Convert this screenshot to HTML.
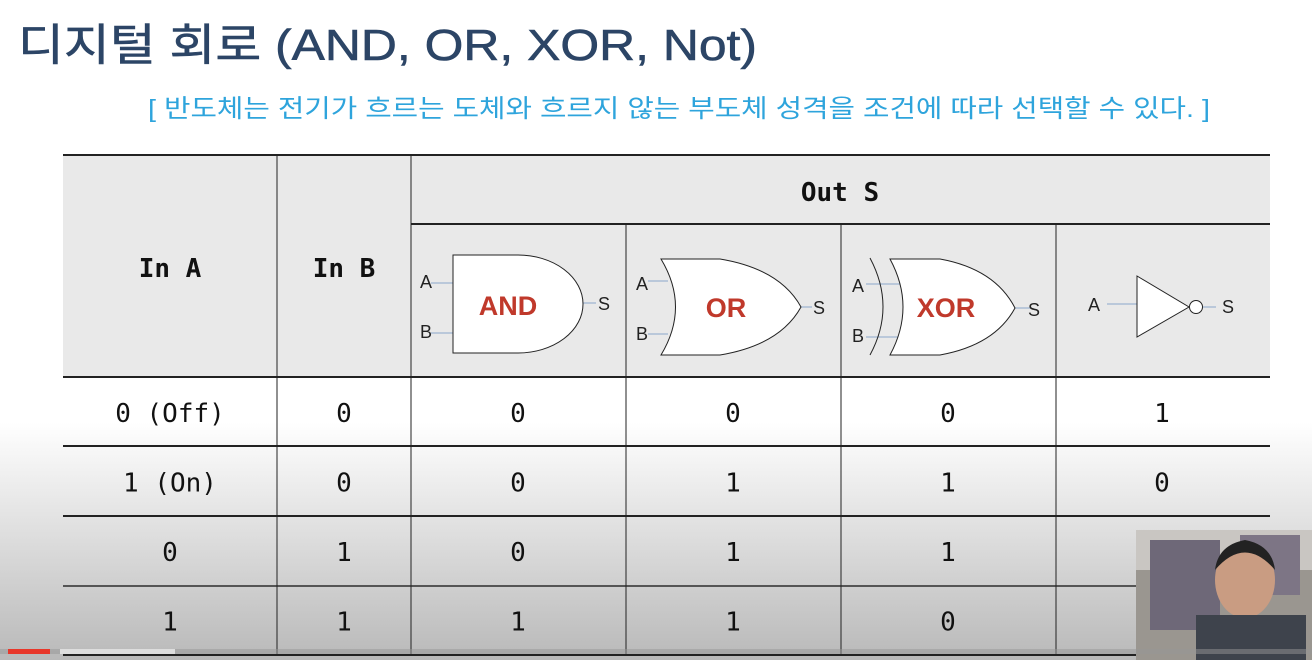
<!DOCTYPE html>
<html><head><meta charset="utf-8">
<style>
html,body{margin:0;padding:0;width:1312px;height:660px;overflow:hidden;background:#fff}
svg{display:block}
.mono{font-family:"DejaVu Sans Mono","Liberation Mono",monospace;fill:#111}
.sans{font-family:"Liberation Sans","DejaVu Sans",sans-serif}
</style></head>
<body>
<svg width="1312" height="660" viewBox="0 0 1312 660">
<defs>
<linearGradient id="bg" x1="0" y1="0" x2="0" y2="1">
<stop offset="0" stop-color="#ffffff"/>
<stop offset="0.64" stop-color="#ffffff"/>
<stop offset="1" stop-color="#b9b9b9"/>
</linearGradient>
</defs>
<rect width="1312" height="660" fill="url(#bg)"/>

<text x="18" y="60" font-size="44" fill="#2c4566" textLength="739" lengthAdjust="spacingAndGlyphs" style='font-family:"Liberation Sans","Noto Sans CJK KR",sans-serif;stroke:#2c4566;stroke-width:0.6'>디지털 회로 (AND, OR, XOR, Not)</text>
<text x="148" y="117" font-size="25" fill="#2ea4dc" textLength="1062" lengthAdjust="spacingAndGlyphs" style='font-family:"Liberation Sans","Noto Sans CJK KR",sans-serif'>[ 반도체는 전기가 흐르는 도체와 흐르지 않는 부도체 성격을 조건에 따라 선택할 수 있다. ]</text>

<rect x="63" y="155" width="1207" height="222" fill="#e9e9e9"/>

<g stroke="#222" fill="none">
<line x1="63" y1="155" x2="1270" y2="155" stroke-width="2"/>
<line x1="411" y1="224" x2="1270" y2="224" stroke-width="2"/>
<line x1="63" y1="377" x2="1270" y2="377" stroke-width="2"/>
<line x1="63" y1="446" x2="1270" y2="446" stroke-width="2"/>
<line x1="63" y1="516" x2="1270" y2="516" stroke-width="2"/>
<line x1="63" y1="586" x2="1270" y2="586" stroke-width="2" stroke="#555"/>
<line x1="63" y1="655" x2="1270" y2="655" stroke-width="2"/>
<line x1="277" y1="155" x2="277" y2="655"/>
<line x1="411" y1="155" x2="411" y2="655"/>
<line x1="626" y1="224" x2="626" y2="655"/>
<line x1="841" y1="224" x2="841" y2="655"/>
<line x1="1056" y1="224" x2="1056" y2="655"/>
</g>

<g class="mono" font-size="26" font-weight="bold" text-anchor="middle">
<text x="170" y="277">In A</text>
<text x="344" y="277">In B</text>
<text x="840" y="201">Out S</text>
</g>

<g>
<line x1="431" y1="283" x2="453" y2="283" stroke="#8aa8cc"/>
<line x1="431" y1="333" x2="453" y2="333" stroke="#8aa8cc"/>
<line x1="583" y1="303" x2="596" y2="303" stroke="#8aa8cc"/>
<path d="M453 255 H518 A65 49 0 0 1 518 353 H453 Z" fill="#fff" stroke="#222"/>
<text class="sans" x="508" y="315" font-size="27" font-weight="bold" fill="#c0392b" text-anchor="middle">AND</text>
<text class="sans" x="420" y="288" font-size="18" fill="#222">A</text>
<text class="sans" x="420" y="338" font-size="18" fill="#222">B</text>
<text class="sans" x="598" y="310" font-size="18" fill="#222">S</text>
</g>

<g>
<line x1="648" y1="281" x2="668" y2="281" stroke="#8aa8cc"/>
<line x1="648" y1="334" x2="668" y2="334" stroke="#8aa8cc"/>
<line x1="801" y1="307" x2="812" y2="307" stroke="#8aa8cc"/>
<path d="M661 259 Q690 307 661 355 H720 Q780 345 801 307 Q780 269 720 259 Z" fill="#fff" stroke="#222"/>
<text class="sans" x="726" y="317" font-size="27" font-weight="bold" fill="#c0392b" text-anchor="middle">OR</text>
<text class="sans" x="636" y="290" font-size="18" fill="#222">A</text>
<text class="sans" x="636" y="340" font-size="18" fill="#222">B</text>
<text class="sans" x="813" y="314" font-size="18" fill="#222">S</text>
</g>

<g>
<line x1="866" y1="284" x2="902" y2="284" stroke="#8aa8cc"/>
<line x1="866" y1="337" x2="902" y2="337" stroke="#8aa8cc"/>
<line x1="1015" y1="308" x2="1030" y2="308" stroke="#8aa8cc"/>
<path d="M870 258 Q896 307 870 355" fill="none" stroke="#222"/>
<path d="M890 259 Q916 307 890 355 H940 Q995 345 1015 308 Q995 269 940 259 Z" fill="#fff" stroke="#222"/>
<text class="sans" x="946" y="317" font-size="27" font-weight="bold" fill="#c0392b" text-anchor="middle">XOR</text>
<text class="sans" x="852" y="292" font-size="18" fill="#222">A</text>
<text class="sans" x="852" y="342" font-size="18" fill="#222">B</text>
<text class="sans" x="1028" y="316" font-size="18" fill="#222">S</text>
</g>

<g>
<line x1="1107" y1="304" x2="1137" y2="304" stroke="#8aa8cc"/>
<line x1="1203" y1="307" x2="1216" y2="307" stroke="#8aa8cc"/>
<path d="M1137 276 L1189 307 L1137 337 Z" fill="#fff" stroke="#222"/>
<circle cx="1196" cy="307" r="6.5" fill="#fff" stroke="#222"/>
<text class="sans" x="1088" y="311" font-size="18" fill="#222">A</text>
<text class="sans" x="1222" y="313" font-size="18" fill="#222">S</text>
</g>

<g id="rows" class="mono" font-size="26" text-anchor="middle"></g>

<g>
<rect x="1136" y="530" width="176" height="130" fill="#9a9690"/>
<rect x="1136" y="530" width="176" height="40" fill="#c9c6c2"/>
<rect x="1150" y="540" width="70" height="90" fill="#6e6878"/>
<rect x="1240" y="535" width="60" height="60" fill="#7d7585"/>
<ellipse cx="1245" cy="580" rx="30" ry="38" fill="#c99c82"/>
<path d="M1215 570 Q1245 535 1275 570 Q1272 545 1245 540 Q1218 545 1215 570 Z" fill="#222"/>
<rect x="1196" y="615" width="110" height="45" fill="#3e434c"/>
</g>

<rect x="0" y="649" width="1312" height="5" fill="rgba(150,150,150,0.5)"/>
<rect x="60" y="649" width="115" height="5" fill="#ddd"/>
<rect x="8" y="649" width="42" height="5" fill="#e8372a"/>
</svg>
<script>
const inA=["0 (Off)","1 (On)","0","1"];
const inB=["0","0","1","1"];
const andOut=["0","0","0","1"];
const orOut=["0","1","1","1"];
const xorOut=["0","1","1","0"];
const notOut=["1","0","",""];
const colX=[170,344,518,733,948,1162];
const rowTop=377,rowH=69.5;
const g=document.getElementById('rows');
const NS="http://www.w3.org/2000/svg";
const cols=[inA,inB,andOut,orOut,xorOut,notOut];
const names=["in-a","in-b","and-out","or-out","xor-out","not-out"];
for(let r=0;r<4;r++){
  for(let c=0;c<6;c++){
    const t=document.createElementNS(NS,'text');
    t.setAttribute('x',colX[c]);
    t.setAttribute('y',rowTop+rowH*r+rowH/2+10);
    t.textContent=cols[c][r];
    
    
    g.appendChild(t);
  }
}
</script>
</body></html>
